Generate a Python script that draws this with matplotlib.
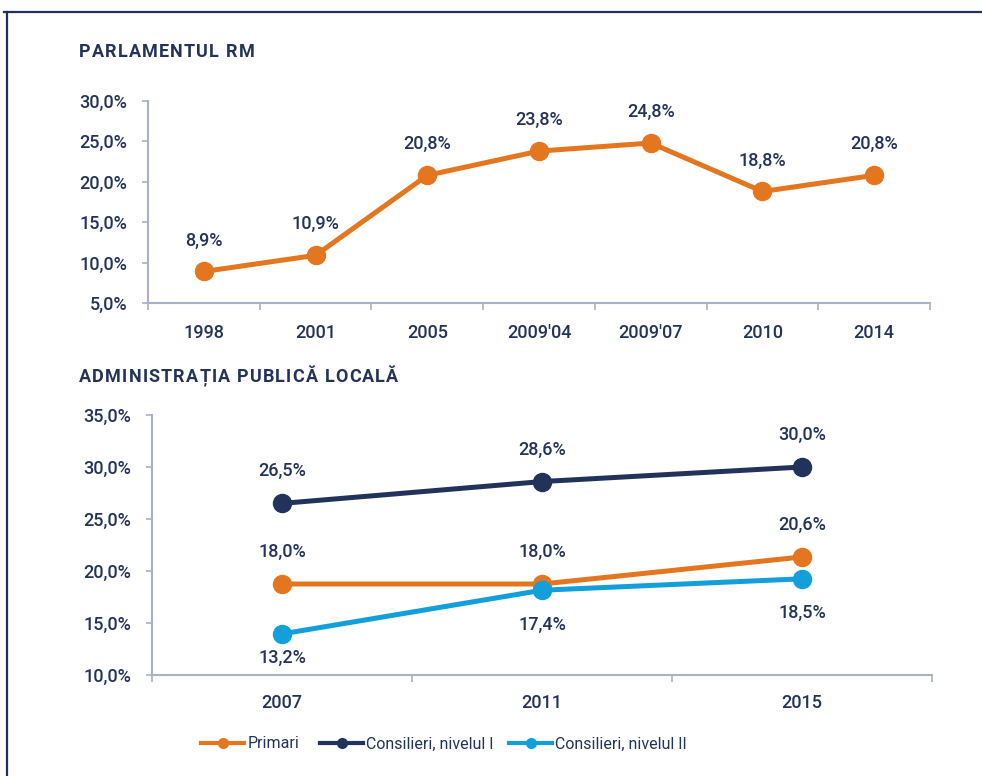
import matplotlib
matplotlib.use('Agg')
import matplotlib.pyplot as plt
from matplotlib.lines import Line2D
from matplotlib.ticker import FuncFormatter
from matplotlib import font_manager

# ---------------- data ----------------
parl_title = "PARLAMENTUL RM"
parl_categories = ["1998", "2001", "2005", "2009'04", "2009'07", "2010", "2014"]
parl_values = [8.9, 10.9, 20.8, 23.8, 24.8, 18.8, 20.8]

apl_title = "ADMINISTRAȚIA PUBLICĂ LOCALĂ"
apl_categories = ["2007", "2011", "2015"]
series_names = ["Primari", "Consilieri, nivelul I", "Consilieri, nivelul II"]
primari_values = [18.75, 18.75, 21.35]
primari_labels = ["18,0%", "18,0%", "20,6%"]
cons1_values = [26.5, 28.6, 30.0]
cons1_labels = ["26,5%", "28,6%", "30,0%"]
cons2_values = [13.95, 18.15, 19.25]
cons2_labels = ["13,2%", "17,4%", "18,5%"]

# ---------------- style ----------------
ORANGE = '#E4761F'
NAVY = '#22335B'
BLUE = '#139FDA'
TEXT = '#23345A'
AXIS = '#A9B1C4'

avail = {f.name for f in font_manager.fontManager.ttflist}
FONT = 'Roboto' if 'Roboto' in avail else 'DejaVu Sans'
NARROW = 'Liberation Sans Narrow' if 'Liberation Sans Narrow' in avail else FONT
plt.rcParams['font.family'] = [FONT, 'DejaVu Sans']

fig = plt.figure(figsize=(9.82, 7.76), dpi=100)
renderer = fig.canvas.get_renderer()

def pct(v, pos=None):
    return f"{v:.1f}%".replace('.', ',')

def style_axes(ax, ncat, ylo, yhi, step, cats, xpad):
    ax.set_xlim(-0.5, ncat - 0.5)
    ax.set_ylim(ylo, yhi)
    for s in ['top', 'right']:
        ax.spines[s].set_visible(False)
    for s in ['left', 'bottom']:
        ax.spines[s].set_color(AXIS)
        ax.spines[s].set_linewidth(1.5)
    ax.set_yticks([ylo + i * step for i in range(int(round((yhi - ylo) / step)) + 1)])
    ax.yaxis.set_major_formatter(FuncFormatter(pct))
    ax.tick_params(axis='y', length=4.5, width=1.2, color=AXIS, pad=10.5,
                   labelsize=13, labelcolor=TEXT)
    ax.set_xticks(range(ncat))
    ax.set_xticklabels(cats)
    ax.set_xticks([i - 0.5 for i in range(ncat + 1)], minor=True)
    ax.tick_params(axis='x', which='major', length=0, pad=xpad, labelsize=13, labelcolor=TEXT)
    ax.tick_params(axis='x', which='minor', length=5, width=1.2, color=AXIS)
    for lab in ax.get_xticklabels() + ax.get_yticklabels():
        lab.set_fontweight('medium')

# ---------------- top chart ----------------
ax1 = fig.add_axes([148 / 982, 1 - 303 / 776, (930 - 148) / 982, (303 - 101) / 776])
style_axes(ax1, len(parl_categories), 5, 30, 5, parl_categories, 15)
x1 = list(range(len(parl_categories)))
ax1.plot(x1, parl_values, color=ORANGE, lw=3.6, marker='o', ms=13, zorder=3, clip_on=False)
for xi, v in zip(x1, parl_values):
    ax1.annotate(pct(v), (xi, v), xytext=(0, 31), textcoords='offset pixels',
                 ha='center', va='center', fontsize=13, color=TEXT, fontweight='medium')

# ---------------- bottom chart ----------------
ax2 = fig.add_axes([152 / 982, 1 - 675 / 776, (932 - 152) / 982, (675 - 415) / 776])
style_axes(ax2, len(apl_categories), 10, 35, 5, apl_categories, 14)
x2 = list(range(len(apl_categories)))
series = [
    (primari_values, primari_labels, ORANGE, [32, 32, 32]),
    (cons1_values, cons1_labels, NAVY, [32, 32, 32]),
    (cons2_values, cons2_labels, BLUE, [-24, -35, -34]),
]
for vals, labs, col, offs in series:
    ax2.plot(x2, vals, color=col, lw=3.6, marker='o', ms=13, zorder=3, clip_on=False)
    for xi, v, lab, off in zip(x2, vals, labs, offs):
        ax2.annotate(lab, (xi, v), xytext=(0, off), textcoords='offset pixels',
                     ha='center', va='center', fontsize=13, color=TEXT, fontweight='medium')

# ---------------- titles (letter-spaced) ----------------
def spaced_text(x_px, y_px, s, tracking_px, **kw):
    x = x_px
    for ch in s:
        t = fig.text(x / 982, 1 - y_px / 776, ch, ha='left', va='center', **kw)
        w = t.get_window_extent(renderer=renderer).width
        if ch == ' ':
            probe = fig.text(0, 0, 'a a', **kw)
            probe2 = fig.text(0, 0, 'aa', **kw)
            w = (probe.get_window_extent(renderer=renderer).width -
                 probe2.get_window_extent(renderer=renderer).width)
            probe.remove(); probe2.remove()
        x += w + tracking_px

spaced_text(79, 52, parl_title, 1.2, fontsize=13, fontweight='bold', color=TEXT)
spaced_text(79, 377, apl_title, 1.2, fontsize=13, fontweight='bold', color=TEXT)

# ---------------- legend ----------------
colors = [ORANGE, NAVY, BLUE]
leg_x = [201, 320, 509]
for name, col, lx in zip(series_names, colors, leg_x):
    h = Line2D([], [], color=col, lw=3, marker='o', ms=7)
    leg = fig.legend([h], [name], loc='center left', bbox_to_anchor=(lx / 982, 1 - 744 / 776),
                     frameon=False, handlelength=2.7, handletextpad=0.2, borderpad=0,
                     borderaxespad=0, prop={'family': NARROW, 'size': 11.5})
    for t in leg.get_texts():
        t.set_color(TEXT)

# ---------------- frame ----------------
fig.add_artist(Line2D([4 / 982, 1], [1 - 11.5 / 776] * 2, transform=fig.transFigure,
                      color=NAVY, lw=1.6))
fig.add_artist(Line2D([7 / 982] * 2, [0, 1 - 11.5 / 776], transform=fig.transFigure,
                      color=NAVY, lw=1.6))

fig.savefig('out.png', dpi=100)
